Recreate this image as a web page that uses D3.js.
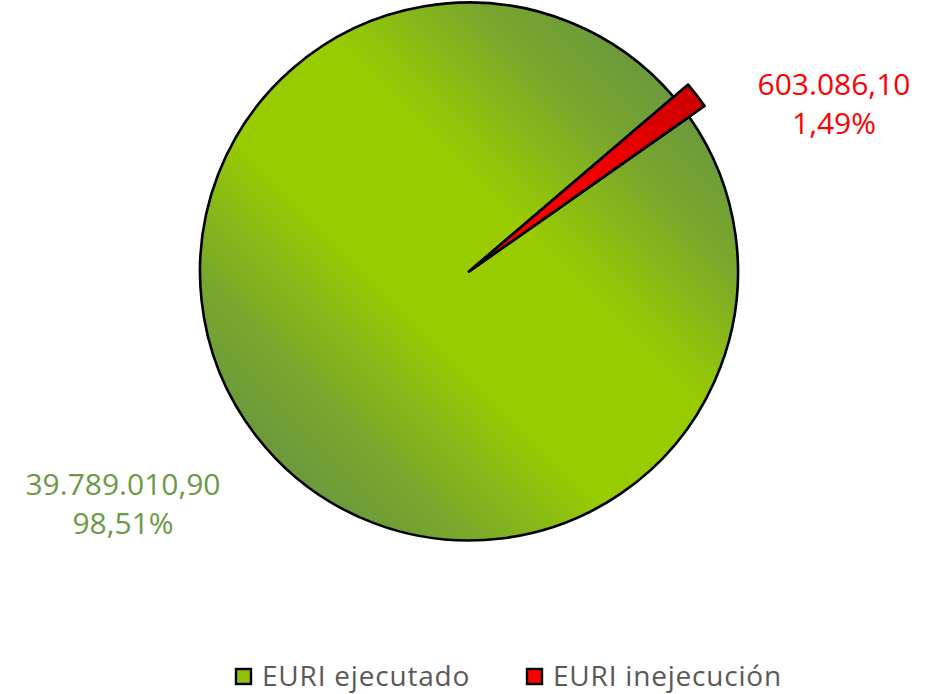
<!DOCTYPE html>
<html>
<head>
<meta charset="utf-8">
<style>
  body { margin: 0; background: #fff; }
  svg { display: block; }
  text { font-family: "Open Sans", Lato, sans-serif; }
</style>
</head>
<body>
<script src="https://cdn.jsdelivr.net/npm/d3@7"></script>
<script>
  // data
  var categories = ["EURI ejecutado", "EURI inejecución"];
  var values = [39789010.90, 603086.10];
  var valueLabels = ["39.789.010,90", "603.086,10"];
  var pctLabels = ["98,51%", "1,49%"];

  var width = 936, height = 694;
  var cx = 469, cy = 271.5, r = 269;

  var svg = d3.select("body").append("svg")
    .attr("width", width)
    .attr("height", height);

  // gradients are in the pie group's space (origin at pie centre)
  var defs = svg.append("defs");
  var gGreen = defs.append("linearGradient")
    .attr("id", "gGreen")
    .attr("gradientUnits", "userSpaceOnUse")
    .attr("x1", r * 0.72).attr("y1", -r * 0.72)
    .attr("x2", -r * 0.72).attr("y2", r * 0.72);
  [[0, "#6a983e"], [0.15, "#79a72c"], [0.38, "#99cc00"],
   [0.62, "#99cc00"], [0.85, "#79a72c"], [1, "#6a983e"]].forEach(function (s) {
    gGreen.append("stop").attr("offset", s[0]).attr("stop-color", s[1]);
  });

  var gRed = defs.append("radialGradient")
    .attr("id", "gRed")
    .attr("gradientUnits", "userSpaceOnUse")
    .attr("cx", 0).attr("cy", 0).attr("r", 290);
  gRed.append("stop").attr("offset", 0).attr("stop-color", "#ff0000");
  gRed.append("stop").attr("offset", 0.6).attr("stop-color", "#f00000");
  gRed.append("stop").attr("offset", 1).attr("stop-color", "#cc0000");

  var pie = d3.pie()
    .sort(null)
    .startAngle(54.9 * Math.PI / 180)
    .endAngle((54.9 + 360) * Math.PI / 180);

  var arcs = pie(values);
  var outer = [r, 288];
  var fills = ["url(#gGreen)", "url(#gRed)"];

  var g = svg.append("g")
    .attr("transform", "translate(" + cx + "," + cy + ")");

  g.selectAll("path")
    .data(arcs)
    .enter()
    .append("path")
    .attr("d", function (d, i) {
      return d3.arc().innerRadius(0).outerRadius(outer[i])(d);
    })
    .attr("fill", function (d, i) { return fills[i]; })
    .attr("stroke", "#000")
    .attr("stroke-width", 2.6)
    .attr("stroke-linejoin", "round");

  // data labels
  var labelPos = [[123, 495], [834, 95]];
  var labelColors = ["#6a9a45", "#ff0000"];
  var labels = svg.append("g");
  categories.forEach(function (c, i) {
    var t = labels.append("text")
      .attr("x", labelPos[i][0])
      .attr("y", labelPos[i][1])
      .attr("text-anchor", "middle")
      .attr("fill", labelColors[i])
      .attr("font-size", 30);
    t.append("tspan").attr("x", labelPos[i][0]).text(valueLabels[i]);
    t.append("tspan").attr("x", labelPos[i][0]).attr("dy", 39).text(pctLabels[i]);
  });

  // legend
  var legendX = [236, 527];
  var legendFill = ["#8fc00a", "#ff0000"];
  var legend = svg.append("g");
  categories.forEach(function (c, i) {
    legend.append("rect")
      .attr("x", legendX[i]).attr("y", 669)
      .attr("width", 15).attr("height", 15)
      .attr("fill", legendFill[i])
      .attr("stroke", "#000")
      .attr("stroke-width", 2.4);
    legend.append("text")
      .attr("x", legendX[i] + 26)
      .attr("y", 686)
      .attr("fill", "#595959")
      .attr("font-size", 28)
      .attr("letter-spacing", 0.8)
      .text(c);
  });
</script>
</body>
</html>
